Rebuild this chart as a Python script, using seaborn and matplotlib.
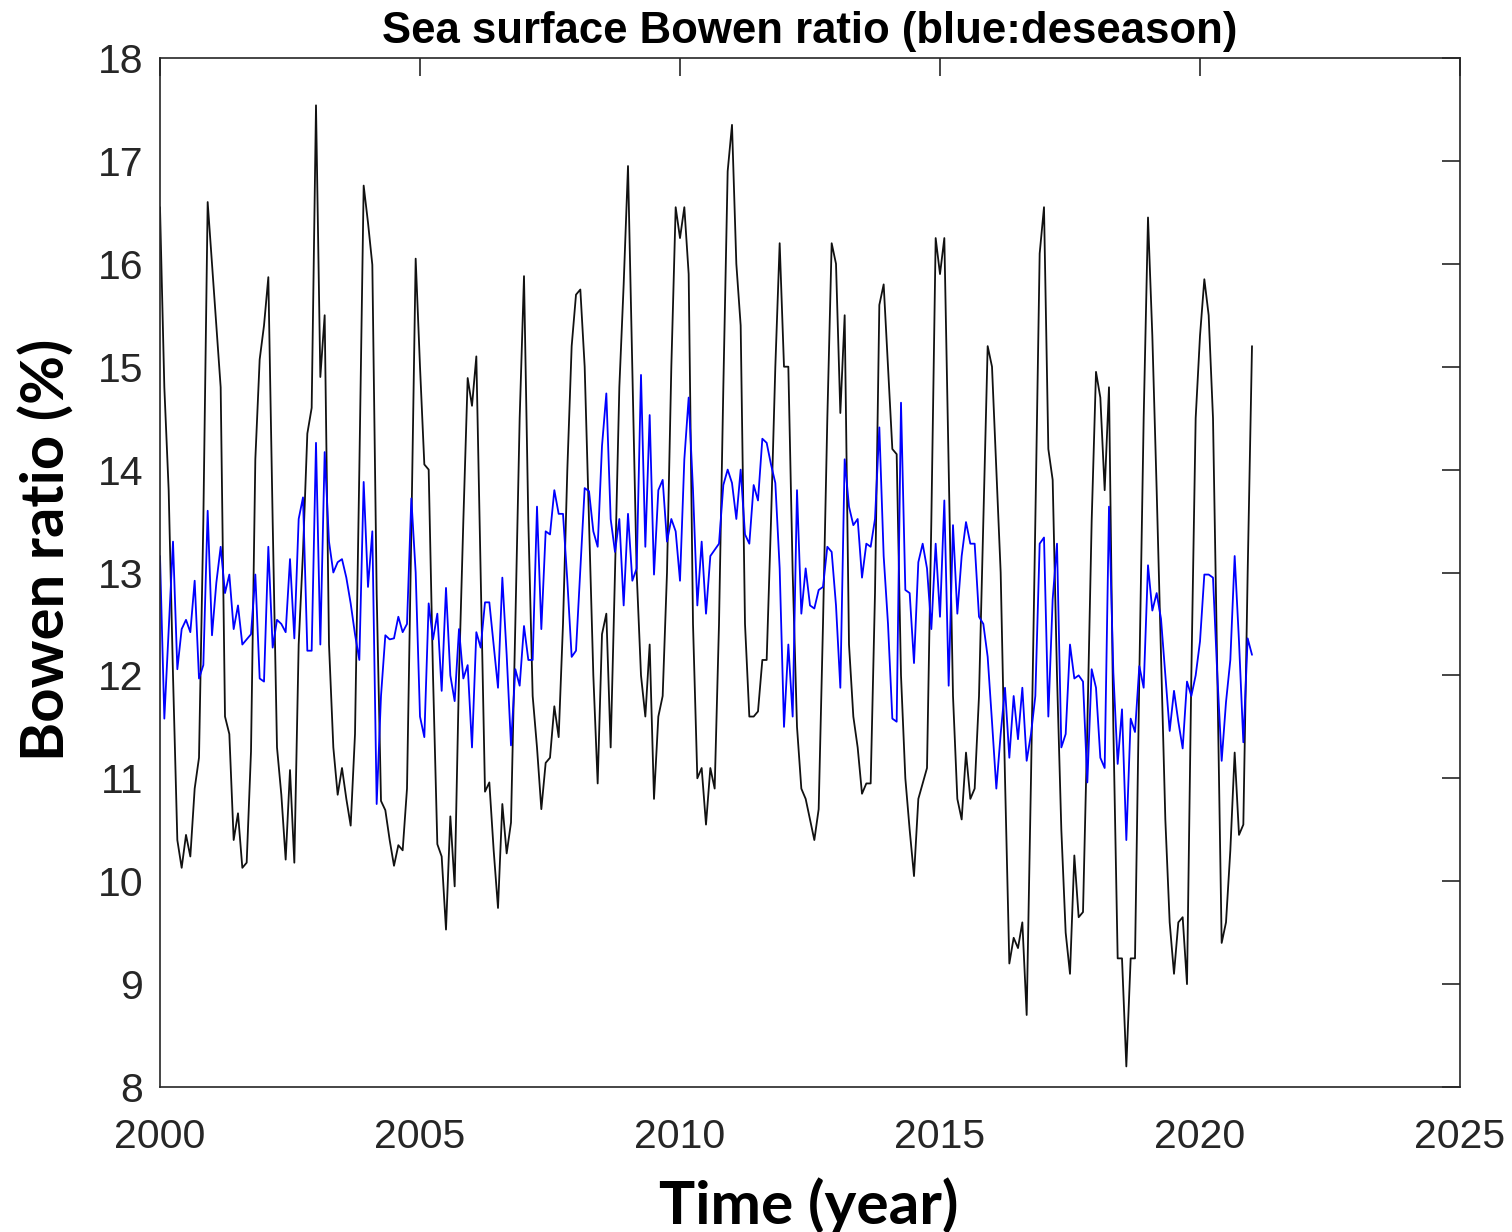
import numpy as np
import pandas as pd
import matplotlib
matplotlib.use("Agg")
import matplotlib.pyplot as plt
import seaborn as sns

# monthly values, Jan 2000 .. Jan 2021
raw_ratio = [
    16.55, 14.8, 13.8, 12.0, 10.4, 10.13, 10.45, 10.24, 10.9, 11.2, 13.5, 16.6,       # 2000
    16.0, 15.4, 14.8, 11.6, 11.43, 10.4, 10.66, 10.13, 10.18, 11.26, 14.1, 15.07,     # 2001
    15.4, 15.87, 13.5, 11.3, 10.84, 10.21, 11.08, 10.18, 12.3, 13.2, 14.35, 14.6,     # 2002
    17.54, 14.9, 15.5, 12.3, 11.3, 10.84, 11.1, 10.8, 10.54, 11.43, 14.0, 16.76,      # 2003
    16.4, 15.99, 12.8, 10.78, 10.69, 10.4, 10.15, 10.35, 10.3, 10.9, 13.4, 16.05,     # 2004
    15.0, 14.05, 14.0, 12.0, 10.36, 10.24, 9.53, 10.63, 9.95, 12.0, 13.5, 14.89,      # 2005
    14.62, 15.1, 13.0, 10.87, 10.96, 10.3, 9.74, 10.75, 10.27, 10.57, 12.5, 14.5,     # 2006
    15.88, 13.5, 11.8, 11.3, 10.7, 11.15, 11.2, 11.7, 11.4, 12.5, 14.0, 15.2,         # 2007
    15.7, 15.75, 15.0, 13.5, 12.0, 10.95, 12.4, 12.6, 11.3, 13.0, 14.8, 15.8,         # 2008
    16.95, 15.0, 13.0, 12.0, 11.6, 12.3, 10.8, 11.6, 11.8, 13.0, 15.0, 16.55,         # 2009
    16.25, 16.55, 15.9, 12.5, 11.0, 11.1, 10.55, 11.1, 10.9, 12.5, 14.8, 16.9,        # 2010
    17.35, 16.0, 15.4, 12.5, 11.6, 11.6, 11.65, 12.15, 12.15, 13.5, 15.0, 16.2,       # 2011
    15.0, 15.0, 13.0, 11.5, 10.9, 10.8, 10.6, 10.4, 10.7, 12.5, 14.5, 16.2,           # 2012
    16.0, 14.55, 15.5, 12.3, 11.6, 11.3, 10.85, 10.95, 10.95, 12.8, 15.6, 15.8,       # 2013
    15.0, 14.2, 14.15, 12.0, 11.0, 10.5, 10.05, 10.8, 10.95, 11.1, 13.5, 16.25,       # 2014
    15.9, 16.25, 14.0, 11.8, 10.8, 10.6, 11.25, 10.8, 10.9, 11.8, 13.5, 15.2,         # 2015
    15.0, 14.0, 13.0, 11.0, 9.2, 9.45, 9.35, 9.6, 8.7, 11.0, 13.5, 16.1,              # 2016
    16.55, 14.2, 13.9, 12.0, 10.5, 9.5, 9.1, 10.25, 9.65, 9.7, 11.5, 13.5,            # 2017
    14.95, 14.7, 13.8, 14.8, 11.5, 9.25, 9.25, 8.2, 9.25, 9.25, 12.0, 14.5,           # 2018
    16.45, 15.3, 13.8, 12.2, 10.6, 9.6, 9.1, 9.6, 9.65, 9.0, 12.0, 14.5,              # 2019
    15.3, 15.85, 15.5, 14.5, 12.0, 9.4, 9.6, 10.3, 11.25, 10.45, 10.55, 13.0,         # 2020
    15.2,                                                                              # 2021
]

deseason_ratio = [
    13.16, 11.58, 12.45, 13.3, 12.06, 12.45, 12.54, 12.42, 12.92, 11.97, 12.1, 13.6,
    12.39, 12.9, 13.25, 12.8, 12.98, 12.45, 12.68, 12.3, 12.35, 12.4, 12.98, 11.97,
    11.94, 13.25, 12.27, 12.54, 12.5, 12.42, 13.13, 12.36, 13.52, 13.73, 12.24, 12.24,
    14.26, 12.3, 14.17, 13.3, 13.0, 13.1, 13.13, 12.95, 12.7, 12.4, 12.15, 13.88,
    12.86, 13.4, 10.75, 11.8, 12.39, 12.35, 12.36, 12.57, 12.42, 12.5, 13.72, 13.0,
    11.6, 11.4, 12.7, 12.35, 12.6, 11.85, 12.85, 12.0, 11.75, 12.45, 11.97, 12.1,
    11.3, 12.42, 12.27, 12.71, 12.71, 12.3, 11.88, 12.95, 12.2, 11.32, 12.06, 11.9,
    12.48, 12.15, 12.15, 13.64, 12.45, 13.4, 13.37, 13.8, 13.57, 13.57, 12.92, 12.18,
    12.24, 13.04, 13.82, 13.79, 13.4, 13.25, 14.23, 14.74, 13.52, 13.2, 13.52, 12.68,
    13.57, 12.92, 13.04, 14.92, 13.25, 14.53, 12.98, 13.8, 13.9, 13.3, 13.52, 13.4,
    12.92, 14.1, 14.7, 13.8, 12.68, 13.3, 12.6, 13.16, 13.22, 13.28, 13.85, 14.0,
    13.87, 13.52, 14.0, 13.37, 13.28, 13.85, 13.7, 14.3, 14.26, 14.05, 13.87, 13.04,
    11.5, 12.3, 11.6, 13.8, 12.6, 13.04, 12.68, 12.65, 12.83, 12.86, 13.25, 13.2,
    12.68, 11.88, 14.1, 13.64, 13.46, 13.52, 12.95, 13.28, 13.25, 13.52, 14.41, 13.16,
    12.5, 11.58, 11.55, 14.65, 12.83, 12.8, 12.12, 13.1, 13.28, 13.04, 12.45, 13.28,
    12.57, 13.7, 11.9, 13.46, 12.6, 13.16, 13.49, 13.28, 13.28, 12.57, 12.5, 12.18,
    11.55, 10.9, 11.43, 11.88, 11.2, 11.8, 11.38, 11.88, 11.17, 11.43, 11.8, 13.28,
    13.34, 11.6, 12.74, 13.28, 11.3, 11.43, 12.3, 11.97, 12.0, 11.94, 10.96, 12.06,
    11.88, 11.2, 11.1, 13.64, 12.03, 11.14, 11.67, 10.4, 11.58, 11.45, 12.09, 11.88,
    13.07, 12.63, 12.8, 12.55, 12.0, 11.46, 11.85, 11.55, 11.29, 11.94, 11.8, 12.0,
    12.33, 12.98, 12.98, 12.95, 12.0, 11.17, 11.74, 12.15, 13.16, 12.33, 11.35, 12.36,
    12.2,
]

start_year = 2000
x_ticks = [2000, 2005, 2010, 2015, 2020, 2025]
y_ticks = list(range(8, 19))

sns.set_style("white")
plt.rcParams['font.family'] = ['Liberation Sans', 'DejaVu Sans']

df = pd.DataFrame({
    "time": start_year + np.arange(len(raw_ratio)) / 12.0,
    "raw": raw_ratio,
    "deseason": deseason_ratio,
})

fig = plt.figure(figsize=(15.12, 12.32), dpi=100)
ax = fig.add_axes([160 / 1512, 1 - 1087 / 1232, 1300 / 1512, 1029 / 1232])

sns.lineplot(data=df, x="time", y="raw", color="#111111", linewidth=1.3, ax=ax)
sns.lineplot(data=df, x="time", y="deseason", color="#0000ff", linewidth=1.3, ax=ax)

ax.set_xlim(2000, 2025)
ax.set_ylim(8, 18)
ax.set_xticks(x_ticks)
ax.set_yticks(y_ticks)

edge = "#262626"
for s in ax.spines.values():
    s.set_visible(True)
    s.set_color(edge)
    s.set_linewidth(1.2)
ax.tick_params(direction="in", length=13, width=1.2, colors=edge,
               top=True, right=True, labelsize=29.5)
ax.tick_params(axis="x", pad=22)
ax.tick_params(axis="y", pad=12)

ax.set_title("Sea surface Bowen ratio (blue:deseason)", fontsize=31.5,
             fontweight="bold", color="black", pad=11)
ax.set_xlabel("Time (year)", fontsize=43.5, fontweight="bold",
              family=["Lato", "DejaVu Sans"], color="black")
ax.set_ylabel("Bowen ratio (%)", fontsize=43, fontweight="bold",
              family=["Lato", "DejaVu Sans"], color="black")
ax.xaxis.set_label_coords(0.499, -0.088)
ax.yaxis.set_label_coords(-0.066, 0.522)

fig.savefig("out.png", dpi=100)
